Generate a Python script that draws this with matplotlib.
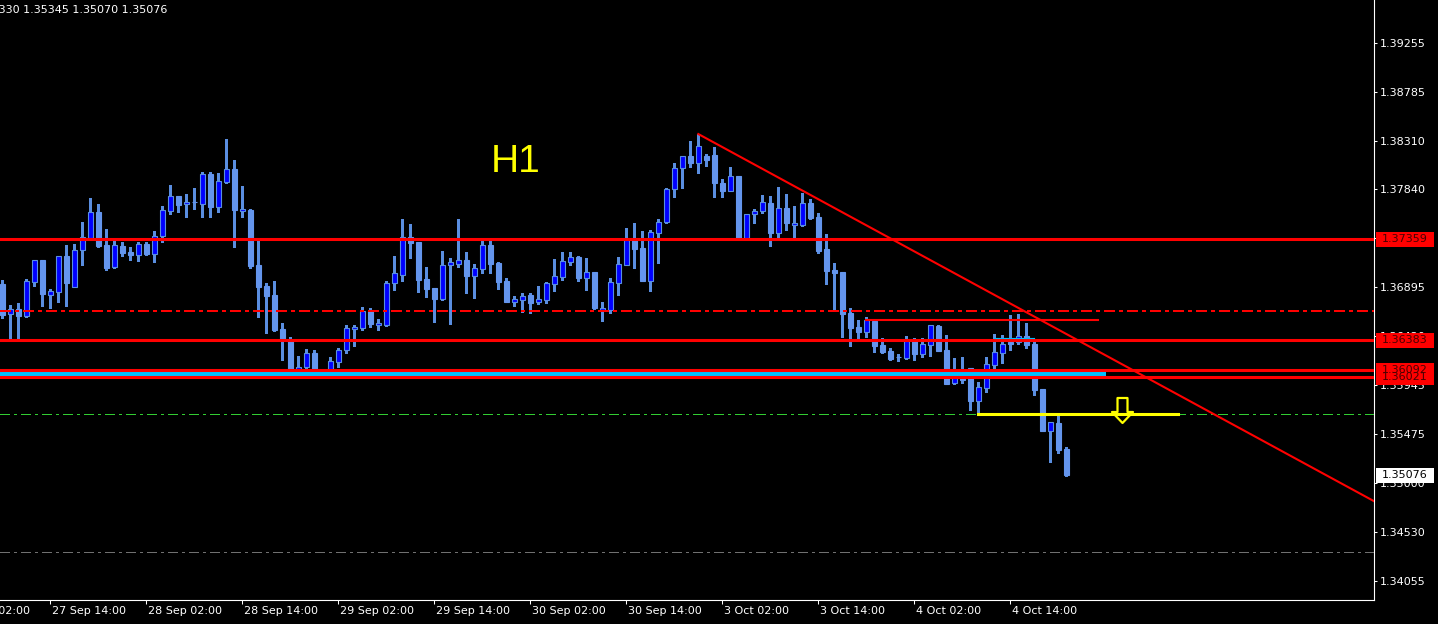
import numpy as np
import matplotlib
matplotlib.use('Agg')
import matplotlib.pyplot as plt
from matplotlib.patches import Rectangle
from matplotlib.path import Path
from matplotlib.transforms import IdentityTransform, blended_transform_factory

# H1 candles, bar index 0 = 27 Sep 08:00
opens = [1.36924, 1.36634, 1.36683, 1.36615, 1.36944, 1.37157, 1.36819, 1.36848, 1.37196, 1.36895,
         1.37254, 1.37370, 1.37621, 1.37302, 1.37089, 1.37292, 1.37235, 1.37206, 1.37311, 1.37215,
         1.37389, 1.37630, 1.37776, 1.37698, 1.37718, 1.37698, 1.37988, 1.37669, 1.37911, 1.38037,
         1.37630, 1.37640, 1.37109, 1.36905, 1.36819, 1.36490, 1.36373, 1.36083, 1.36122, 1.36257,
         1.36083, 1.36045, 1.36171, 1.36286, 1.36490, 1.36500, 1.36663, 1.36529, 1.36529, 1.36934,
         1.37012, 1.37379, 1.37331, 1.36973, 1.36886, 1.36780, 1.37109, 1.37118, 1.37157, 1.37002,
         1.37070, 1.37302, 1.37128, 1.36953, 1.36751, 1.36770, 1.36819, 1.36751, 1.36770, 1.36924,
         1.36992, 1.37138, 1.37186, 1.36983, 1.37041, 1.36673, 1.36673, 1.36934, 1.37109, 1.37350,
         1.37273, 1.36953, 1.37418, 1.37525, 1.37843, 1.38047, 1.38162, 1.38095, 1.38162, 1.38172,
         1.37901, 1.37824, 1.37969, 1.37370, 1.37601, 1.37630, 1.37708, 1.37418, 1.37660, 1.37496,
         1.37496, 1.37708, 1.37572, 1.37263, 1.37060, 1.37041, 1.36644, 1.36509, 1.36461, 1.36567,
         1.36335, 1.36276, 1.36218, 1.36209, 1.36373, 1.36247, 1.36335, 1.36519, 1.36286, 1.35967,
         1.36074, 1.36113, 1.35793, 1.35919, 1.36142, 1.36257, 1.36364, 1.36364, 1.36422, 1.36344,
         1.35909, 1.35503, 1.35581, 1.35330]
highs = [1.36963, 1.36722, 1.36741, 1.36973, 1.37157, 1.37157, 1.36876, 1.37196, 1.37302, 1.37311,
         1.37525, 1.37757, 1.37698, 1.37457, 1.37340, 1.37331, 1.37282, 1.37331, 1.37331, 1.37437,
         1.37679, 1.37882, 1.37776, 1.37795, 1.37853, 1.38008, 1.38008, 1.37998, 1.38327, 1.38124,
         1.37872, 1.37650, 1.37340, 1.36934, 1.36953, 1.36548, 1.36412, 1.36228, 1.36296, 1.36286,
         1.36103, 1.36218, 1.36306, 1.36529, 1.36529, 1.36702, 1.36693, 1.36586, 1.36953, 1.37196,
         1.37553, 1.37505, 1.37331, 1.37089, 1.36886, 1.37244, 1.37177, 1.37553, 1.37235, 1.37118,
         1.37340, 1.37340, 1.37138, 1.36983, 1.36809, 1.36838, 1.36838, 1.36905, 1.36944, 1.37167,
         1.37235, 1.37235, 1.37196, 1.37177, 1.37041, 1.36751, 1.36983, 1.37186, 1.37467, 1.37515,
         1.37437, 1.37447, 1.37553, 1.37853, 1.38095, 1.38162, 1.38307, 1.38375, 1.38181, 1.38249,
         1.37940, 1.38056, 1.37969, 1.37601, 1.37650, 1.37786, 1.37776, 1.37862, 1.37795, 1.37679,
         1.37805, 1.37747, 1.37611, 1.37408, 1.37128, 1.37041, 1.36693, 1.36577, 1.36605, 1.36567,
         1.36403, 1.36306, 1.36247, 1.36422, 1.36403, 1.36403, 1.36529, 1.36529, 1.36432, 1.36209,
         1.36218, 1.36113, 1.35977, 1.36218, 1.36441, 1.36432, 1.36625, 1.36634, 1.36548, 1.36364,
         1.35909, 1.35591, 1.35658, 1.35345]
lows = [1.36596, 1.36393, 1.36403, 1.36605, 1.36905, 1.36712, 1.36693, 1.36751, 1.36712, 1.36895,
        1.37109, 1.37370, 1.37282, 1.37060, 1.37080, 1.37196, 1.37157, 1.37147, 1.37206, 1.37138,
        1.37331, 1.37601, 1.37621, 1.37572, 1.37650, 1.37572, 1.37572, 1.37621, 1.37901, 1.37282,
        1.37572, 1.37080, 1.36605, 1.36451, 1.36470, 1.36190, 1.36074, 1.36025, 1.36103, 1.36054,
        1.36025, 1.36035, 1.36122, 1.36257, 1.36325, 1.36480, 1.36509, 1.36480, 1.36519, 1.36867,
        1.36953, 1.37177, 1.36848, 1.36799, 1.36558, 1.36770, 1.36538, 1.37089, 1.36838, 1.36790,
        1.37031, 1.37031, 1.36876, 1.36751, 1.36712, 1.36654, 1.36644, 1.36731, 1.36741, 1.36857,
        1.36963, 1.37109, 1.36953, 1.36867, 1.36683, 1.36567, 1.36644, 1.36819, 1.37109, 1.37080,
        1.36953, 1.36857, 1.37128, 1.37515, 1.37766, 1.37853, 1.38056, 1.37998, 1.38066, 1.37766,
        1.37766, 1.37824, 1.37360, 1.37360, 1.37515, 1.37611, 1.37292, 1.37379, 1.37447, 1.37379,
        1.37486, 1.37553, 1.37225, 1.36924, 1.36673, 1.36412, 1.36325, 1.36383, 1.36412, 1.36267,
        1.36257, 1.36190, 1.36180, 1.36199, 1.36190, 1.36218, 1.36228, 1.36276, 1.35957, 1.35957,
        1.35967, 1.35706, 1.35677, 1.35881, 1.36103, 1.36161, 1.36286, 1.36344, 1.36306, 1.35852,
        1.35503, 1.35204, 1.35291, 1.35070]
closes = [1.36625, 1.36683, 1.36615, 1.36953, 1.37157, 1.36828, 1.36857, 1.37196, 1.36934, 1.37254,
          1.37379, 1.37621, 1.37292, 1.37080, 1.37302, 1.37225, 1.37206, 1.37311, 1.37215, 1.37389,
          1.37640, 1.37776, 1.37689, 1.37718, 1.37716, 1.37988, 1.37669, 1.37920, 1.38037, 1.37640,
          1.37650, 1.37099, 1.36895, 1.36809, 1.36480, 1.36383, 1.36093, 1.36122, 1.36257, 1.36093,
          1.36045, 1.36180, 1.36286, 1.36500, 1.36509, 1.36663, 1.36538, 1.36548, 1.36934, 1.37031,
          1.37379, 1.37321, 1.36963, 1.36876, 1.36780, 1.37109, 1.37138, 1.37157, 1.37002, 1.37080,
          1.37302, 1.37118, 1.36944, 1.36751, 1.36780, 1.36809, 1.36741, 1.36780, 1.36934, 1.37002,
          1.37147, 1.37186, 1.36983, 1.37041, 1.36693, 1.36693, 1.36944, 1.37118, 1.37350, 1.37263,
          1.36953, 1.37428, 1.37525, 1.37843, 1.38047, 1.38162, 1.38095, 1.38259, 1.38124, 1.37901,
          1.37824, 1.37969, 1.37370, 1.37601, 1.37630, 1.37718, 1.37418, 1.37660, 1.37515, 1.37515,
          1.37708, 1.37563, 1.37244, 1.37050, 1.37031, 1.36634, 1.36500, 1.36461, 1.36577, 1.36325,
          1.36267, 1.36199, 1.36216, 1.36373, 1.36247, 1.36344, 1.36529, 1.36276, 1.35957, 1.36054,
          1.35996, 1.35793, 1.35928, 1.36151, 1.36267, 1.36344, 1.36344, 1.36422, 1.36335, 1.35900,
          1.35503, 1.35591, 1.35320, 1.35076]

time_ticks = [-6, 6, 18, 30, 42, 54, 66, 78, 90, 102, 114, 126]
time_labels = ['27 Sep 02:00', '27 Sep 14:00', '28 Sep 02:00', '28 Sep 14:00', '29 Sep 02:00',
               '29 Sep 14:00', '30 Sep 02:00', '30 Sep 14:00', '3 Oct 02:00', '3 Oct 14:00',
               '4 Oct 02:00', '4 Oct 14:00']
price_ticks = [1.39255, 1.38785, 1.38310, 1.37840, 1.37365, 1.36895, 1.36420, 1.35945,
               1.35475, 1.35000, 1.34530, 1.34055]

# chart objects
levels = [1.37359, 1.36383, 1.36092, 1.36021]
zone = (-5, 138, 1.36021, 1.36092)
dashdot_red = 1.36663
dashdot_green = 1.35670
dashdot_gray = 1.34333
trend = ([87, 172], [1.38375, 1.34802])
short_red = ([108, 137], 1.36577)
short_cyan = ([124, 129], 1.36403)
yellow_seg = ([122, 147], 1.35670)
arrow_pt = (140, 1.35711)
header = '1.35330 1.35345 1.35070 1.35076'

W, H = 1438, 624
fig = plt.figure(figsize=(W / 100, H / 100), dpi=100, facecolor='black')
ax = fig.add_axes([0, 24 / H, 1374 / W, 600 / H], facecolor='black')

o = np.array(opens)
h = np.array(highs)
l = np.array(lows)
c = np.array(closes)
x = np.arange(len(o))
up = c >= o

edge = '#5a8ee0'
ax.vlines(x, l, h, color=edge, lw=0.8, zorder=2, antialiased=False)
ax.bar(x[up], (c - o)[up], bottom=o[up], width=0.62, color='#0000FF',
       edgecolor=edge, linewidth=0.8, zorder=3)
ax.bar(x[~up], (c - o)[~up], bottom=o[~up], width=0.62, color='#6495ED',
       edgecolor='#6495ED', linewidth=0.8, zorder=3)

# objects
ax.fill_between(zone[:2], zone[2], zone[3], color='#00BFFF', lw=0, zorder=4)
for p in levels:
    ax.axhline(p, color='red', lw=2.2, zorder=5)
dd = (7, 3, 2, 3)
ax.axhline(dashdot_red, color='red', lw=1.1, dashes=dd, zorder=4, antialiased=False)
ax.axhline(dashdot_green, color='#32CD32', lw=1, dashes=dd, zorder=4, antialiased=False)
ax.axhline(dashdot_gray, color='#707070', lw=1, dashes=dd, zorder=4, antialiased=False)
ax.plot(trend[0], trend[1], color='red', lw=1.5, zorder=6)
ax.plot(short_red[0], [short_red[1]] * 2, color='red', lw=1.5, zorder=5)
ax.plot(short_cyan[0], [short_cyan[1]] * 2, color='#00BFFF', lw=0.8, zorder=5)
ax.plot(yellow_seg[0], [yellow_seg[1]] * 2, color='yellow', lw=2.2, zorder=6)

arrow = Path([(-0.4, 1), (0.4, 1), (0.4, -0.12), (0.84, -0.12), (0, -1),
              (-0.84, -0.12), (-0.4, -0.12), (-0.4, 1)], closed=True)
ax.plot([arrow_pt[0]], [arrow_pt[1]], marker=arrow, ms=18, mfc='none',
        mec='yellow', mew=1.6, zorder=7)

ax.text(61, 1.38008, 'H1', color='yellow', fontsize=28, family='Liberation Sans',
        va='baseline', ha='left', zorder=8)

ax.set_xlim(-0.29, 171.46)
ax.set_ylim(1.33869, 1.39671)

for s in ['top', 'left']:
    ax.spines[s].set_visible(False)
for s in ['right', 'bottom']:
    ax.spines[s].set_color('white')
    ax.spines[s].set_linewidth(0.8)

ax.yaxis.tick_right()
ax.set_yticks(price_ticks)
ax.set_yticklabels(['%.5f' % p for p in price_ticks])
ax.tick_params(axis='y', colors='white', labelcolor='white', length=2.2, width=0.75,
               pad=2, labelsize=8)
ax.set_xticks([t for t in time_ticks if t >= 0])
ax.tick_params(axis='x', colors='white', length=2.9, width=0.75, labelbottom=False)

tr = blended_transform_factory(ax.transData, ax.transAxes)
for t, lab in zip(time_ticks, time_labels):
    ax.text(t + 0.2, -0.019, lab, transform=tr, color='white', fontsize=8,
            ha='left', va='center', clip_on=False)

# price tags on the scale
def tag(price, txt, fc, tc):
    yp = ax.transData.transform((0, price))[1]
    fig.patches.append(Rectangle((1376, yp - 7.5), 58, 15, transform=IdentityTransform(),
                                 facecolor=fc, edgecolor='none'))
    fig.text(1382, yp, txt, transform=IdentityTransform(), color=tc, fontsize=8,
             va='center', ha='left')

tag(1.37359, '1.37359', 'red', '#4a0000')
tag(1.36383, '1.36383', 'red', '#4a0000')
tag(1.36021, '1.36021', 'red', '#4a0000')
tag(1.36092, '1.36092', 'red', '#4a0000')
tag(closes[-1], '%.5f' % closes[-1], 'white', 'black')

fig.text(-26, H - 10, header, transform=IdentityTransform(), color='white', fontsize=8,
         va='center', ha='left')

fig.savefig('out.png', dpi=100, facecolor='black')
